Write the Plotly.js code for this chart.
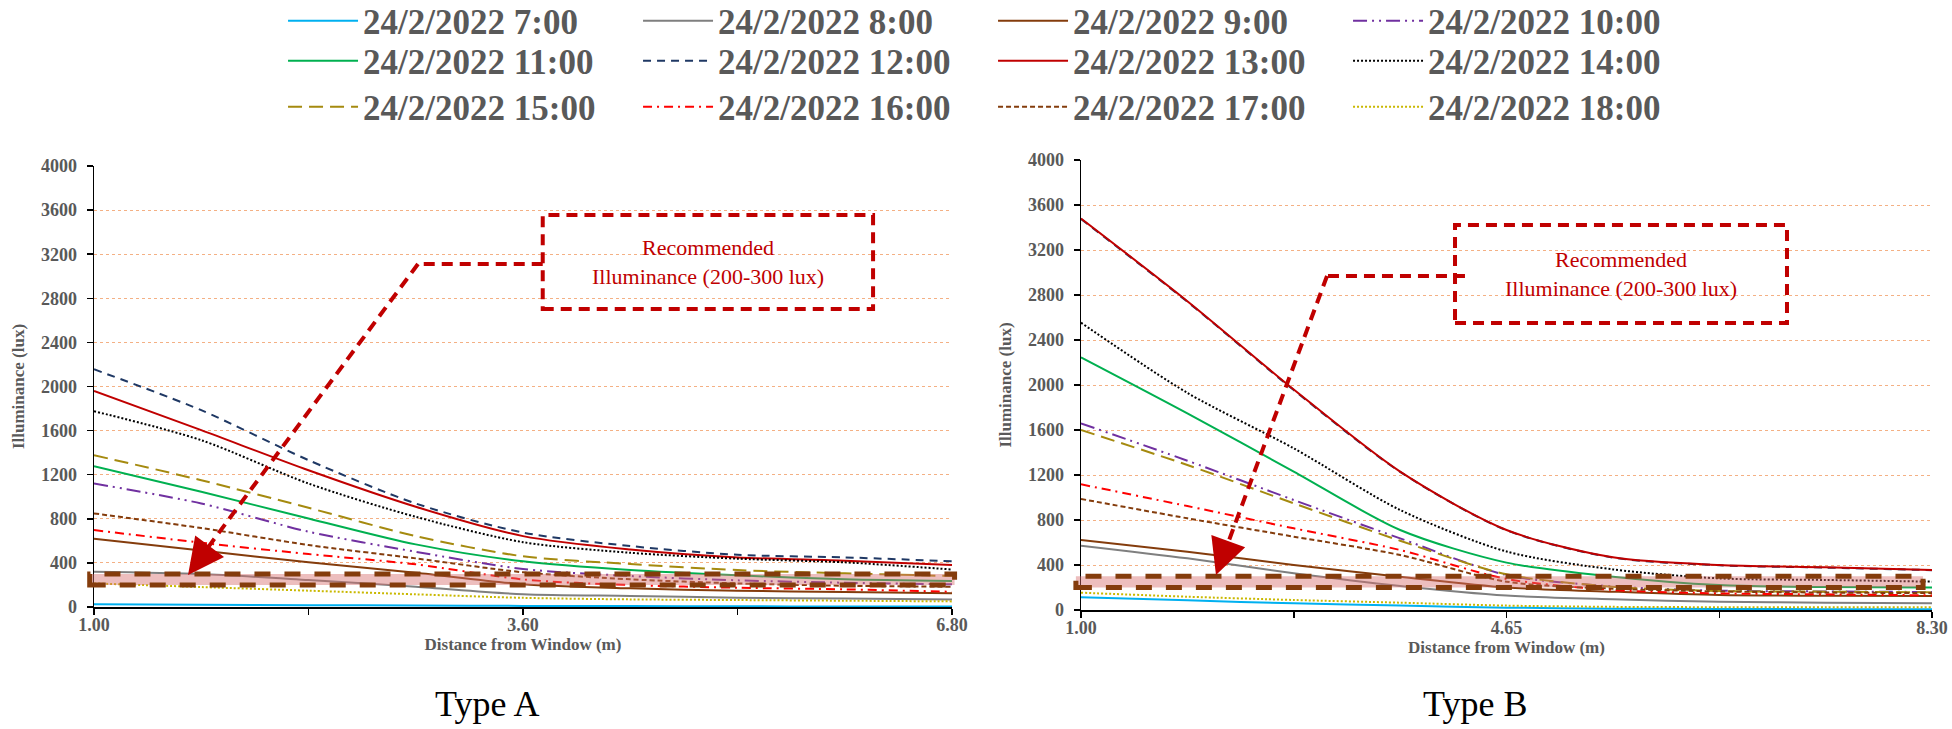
<!DOCTYPE html>
<html>
<head>
<meta charset="utf-8">
<script src="https://cdn.plot.ly/plotly-3.0.1.min.js"></script>
<style>html,body{margin:0;padding:0;background:#fff}#chart{width:1952px;height:729px}</style>
</head>
<body>
<div id="chart"></div>
<script>
// ---------- DATA ----------
const seriesNames = ['24/2/2022 7:00','24/2/2022 8:00','24/2/2022 9:00','24/2/2022 10:00',
  '24/2/2022 11:00','24/2/2022 12:00','24/2/2022 13:00','24/2/2022 14:00',
  '24/2/2022 15:00','24/2/2022 16:00','24/2/2022 17:00','24/2/2022 18:00'];
// measurement points along the room (tick marks every 2 points)
const samplePoints = [0,1,2,3,4,5,6,7,8];
const tickLabelsA = ['1.00','3.60','6.80'];
const tickLabelsB = ['1.00','4.65','8.30'];

// Type A illuminance (lux)
const typeA_0700 = [24, 20, 17, 14, 10, 8, 6, 5, 4];
const typeA_0800 = [320, 299, 245, 184, 116, 100, 85, 76, 69];
const typeA_0900 = [619, 513, 405, 311, 207, 169, 148, 136, 124];
const typeA_1000 = [1120, 939, 683, 501, 345, 281, 242, 220, 206];
const typeA_1100 = [1277, 1045, 803, 568, 414, 335, 287, 251, 236];
const typeA_1200 = [2156, 1785, 1332, 939, 675, 553, 474, 450, 415];
const typeA_1300 = [1960, 1604, 1240, 909, 643, 522, 450, 420, 380];
const typeA_1400 = [1776, 1513, 1120, 818, 588, 492, 438, 405, 340];
const typeA_1500 = [1377, 1150, 900, 643, 460, 390, 335, 305, 281];
const typeA_1600 = [698, 583, 480, 387, 250, 199, 175, 160, 138];
const typeA_1700 = [849, 716, 562, 441, 315, 251, 214, 193, 184];
const typeA_1800 = [214, 181, 148, 115, 83, 69, 63, 57, 51];

// Type B illuminance (lux)
const typeB_0700 = [113, 86, 59, 39, 21, 12, 9, 7, 6];
const typeB_0800 = [572, 459, 326, 213, 128, 95, 74, 65, 59];
const typeB_0900 = [622, 518, 400, 296, 201, 163, 133, 127, 124];
const typeB_1000 = [1659, 1327, 978, 637, 311, 210, 172, 165, 160];
const typeB_1100 = [2246, 1748, 1230, 711, 421, 296, 222, 204, 201];
const typeB_1200 = [3475, 2740, 1955, 1228, 709, 466, 398, 377, 354];
const typeB_1300 = [3480, 2745, 1960, 1230, 711, 468, 400, 379, 356];
const typeB_1400 = [2554, 1930, 1437, 889, 520, 361, 281, 267, 252];
const typeB_1500 = [1600, 1289, 948, 616, 317, 207, 169, 163, 157];
const typeB_1600 = [1117, 924, 726, 533, 276, 178, 148, 139, 130];
const typeB_1700 = [987, 815, 652, 489, 252, 190, 165, 155, 150];
const typeB_1800 = [154, 118, 89, 65, 39, 28, 25, 24, 24];

const recommendedRange = [200, 300];

// ---------- STYLE ----------
const seriesA = [typeA_0700,typeA_0800,typeA_0900,typeA_1000,typeA_1100,typeA_1200,typeA_1300,typeA_1400,typeA_1500,typeA_1600,typeA_1700,typeA_1800];
const seriesB = [typeB_0700,typeB_0800,typeB_0900,typeB_1000,typeB_1100,typeB_1200,typeB_1300,typeB_1400,typeB_1500,typeB_1600,typeB_1700,typeB_1800];
const styles = [
  {color:'#00B0F0', dash:'solid'},
  {color:'#7F7F7F', dash:'solid'},
  {color:'#843C0C', dash:'solid'},
  {color:'#7030A0', dash:'14px,5px,2px,5px,2px,5px'},
  {color:'#00B050', dash:'solid'},
  {color:'#1F3864', dash:'8px,6px'},
  {color:'#C00000', dash:'solid'},
  {color:'#000000', dash:'2px,2px'},
  {color:'#A58A0F', dash:'14px,7px'},
  {color:'#FF0000', dash:'9px,5px,2px,5px'},
  {color:'#843C0C', dash:'5px,3px'},
  {color:'#C9B800', dash:'2px,2px'}
];
const legendIds = ['legend','legend2','legend3'];

const traces = [];
seriesNames.forEach((name,i)=>{
  traces.push({x:samplePoints, y:seriesA[i], type:'scatter', mode:'lines', name:name,
    legendgroup:name, legend:legendIds[Math.floor(i/4)], xaxis:'x', yaxis:'y',
    line:{color:styles[i].color, dash:styles[i].dash, width:2, shape:'spline', smoothing:0.8}});
});
seriesNames.forEach((name,i)=>{
  traces.push({x:samplePoints, y:seriesB[i], type:'scatter', mode:'lines', name:name,
    legendgroup:name, showlegend:false, xaxis:'x2', yaxis:'y2',
    line:{color:styles[i].color, dash:styles[i].dash, width:2, shape:'spline', smoothing:0.8}});
});

function tickText(labels){ const t=[]; labels.forEach((l,i)=>{ t.push(l); if(i<labels.length-1) t.push(''); }); return t; }

const serif = 'serif';
const tickFont = {family:serif, size:18, color:'#595959', weight:700};
const titleFont = {family:serif, size:17, color:'#595959', weight:700};

function xAxis(domain, labels){
  return {domain:domain, range:[0,8], tickvals:[0,2,4,6,8], ticktext:tickText(labels),
    showline:true, linecolor:'#000', linewidth:1.5, ticks:'outside', ticklen:6, tickwidth:1.5, tickcolor:'#000',
    showgrid:false, zeroline:false, tickfont:tickFont, ticklabelstandoff:-5, fixedrange:true,
    title:{text:'Distance from Window (m)', font:titleFont, standoff:0}};
}
function yAxis(domain, anchor){
  return {domain:domain, anchor:anchor, range:[0,4000], dtick:400, showline:true, linecolor:'#000', linewidth:1.5,
    ticks:'outside', ticklen:6, tickwidth:1.5, tickcolor:'#000', showgrid:true, gridcolor:'#F4B084', griddash:'dot', gridwidth:1,
    zeroline:false, tickfont:tickFont, ticklabelstandoff:6, fixedrange:true,
    title:{text:'Illuminance (lux)', font:titleFont, standoff:12}};
}

const red = '#C00000';
const shapes = [];
const annotations = [];
function callout(xa, ya, box, text, corner, tip, tail){
  shapes.push({type:'rect', xref:xa+' domain', yref:ya, x0:box[0], x1:box[1], y0:box[2], y1:box[3],
    line:{color:red, width:4, dash:'11px,7px'}, fillcolor:'rgba(0,0,0,0)', layer:'above'});
  annotations.push({xref:xa+' domain', yref:ya, x:(box[0]+box[1])/2, y:(box[2]+box[3])/2, text:text, showarrow:false,
    xanchor:'center', yanchor:'middle', font:{family:'Liberation Serif', size:22, color:red}, align:'center'});
  shapes.push({type:'line', xref:xa+' domain', yref:ya, x0:corner[0], y0:corner[1], x1:corner[2], y1:corner[1],
    line:{color:red, width:4, dash:'11px,7px'}, layer:'above'});
  shapes.push({type:'line', xref:xa+' domain', yref:ya, x0:corner[2], y0:corner[1], x1:tail[0], y1:tail[1],
    line:{color:red, width:4, dash:'11px,7px'}, layer:'above'});
  annotations.push({xref:xa+' domain', yref:ya, x:tip[0], y:tip[1], text:'', showarrow:true,
    ax:tip[2], ay:tip[3], axref:'pixel', ayref:'pixel', arrowhead:2, arrowsize:1.8, arrowwidth:4, arrowcolor:red});
}
function band(xa, ya, x0, x1){
  shapes.push({type:'rect', xref:xa+' domain', yref:ya, x0:x0, x1:x1, y0:recommendedRange[0], y1:recommendedRange[1],
    fillcolor:'rgba(215,110,110,0.45)', line:{color:'#843C0C', width:5, dash:'16px,14px'}, layer:'above'});
}
band('x','y',-0.005,1.003);
band('x2','y2',-0.006,0.9895);
callout('x','y',[0.523,0.908,2703,3556],'Recommended<br>Illuminance (200-300 lux)',
  [0.523,3111,0.3776],[0.1096,290,21,-28],[0.1336,548]);
callout('x2','y2',[0.4395,0.8296,2551,3422],'Recommended<br>Illuminance (200-300 lux)',
  [0.4512,2969,0.2891],[0.1586,311,12,-33],[0.1731,603]);

annotations.push({xref:'paper', yref:'paper', x:487/1952, y:1-704/729, text:'Type A', showarrow:false,
  xanchor:'center', yanchor:'middle', font:{family:'Liberation Serif', size:36, color:'#000'}});
annotations.push({xref:'paper', yref:'paper', x:1475/1952, y:1-704/729, text:'Type B', showarrow:false,
  xanchor:'center', yanchor:'middle', font:{family:'Liberation Serif', size:36, color:'#000'}});

function legendRow(yCenter){
  return {orientation:'h', x:0.145, xanchor:'left', y:1 - yCenter/729, yanchor:'middle',
    font:{family:serif, size:35, color:'#595959', weight:700},
    entrywidth:270, itemwidth:70, bgcolor:'rgba(0,0,0,0)', borderwidth:0};
}

const layout = {
  width:1952, height:729, margin:{l:0,r:0,t:0,b:0,autoexpand:false},
  paper_bgcolor:'#fff', plot_bgcolor:'#fff', showlegend:true,
  legend:legendRow(21), legend2:legendRow(61), legend3:legendRow(107),
  xaxis:xAxis([94/1952, 952/1952], tickLabelsA),
  yaxis:yAxis([(729-607)/729, (729-166)/729], 'x'),
  xaxis2:xAxis([1081/1952, 1932/1952], tickLabelsB),
  yaxis2:yAxis([(729-610)/729, (729-160)/729], 'x2'),
  shapes:shapes, annotations:annotations
};
layout.xaxis.anchor='y'; layout.xaxis2.anchor='y2';

Plotly.newPlot('chart', traces, layout, {displayModeBar:false, staticPlot:true});
</script>
</body>
</html>
